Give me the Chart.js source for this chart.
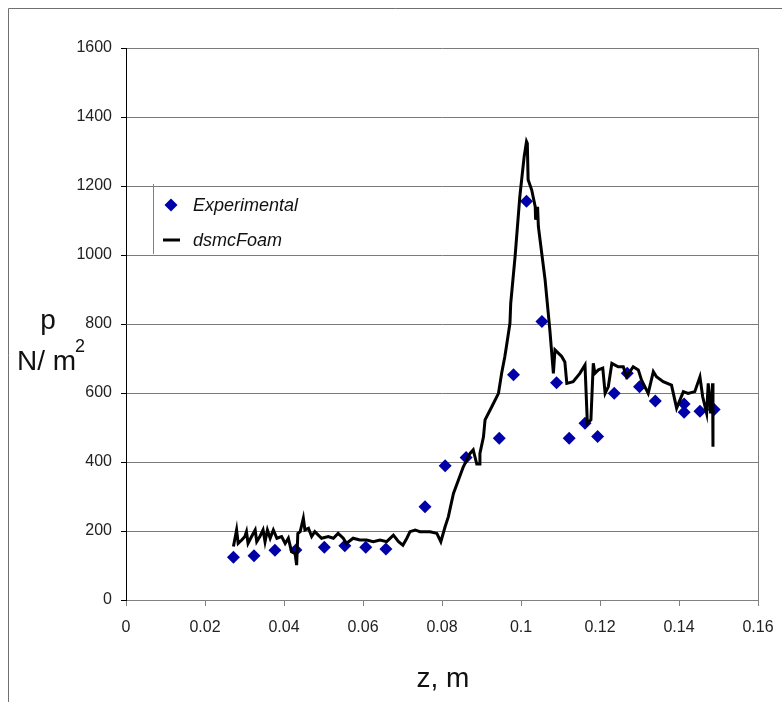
<!DOCTYPE html>
<html>
<head>
<meta charset="utf-8">
<script src="https://cdn.jsdelivr.net/npm/chart.js@4"></script>
<style>
  html, body { margin: 0; padding: 0; background: #fff; }
  #wrap { position: relative; width: 782px; height: 702px; }
</style>
</head>
<body>
<div id="wrap"><canvas id="pChart" width="782" height="702"></canvas></div>
<script>
// --- measured wall pressure (diamonds) ---
const expZ = [0.0272, 0.0324, 0.0377, 0.0430, 0.0502, 0.0554, 0.0607, 0.0658, 0.0757,
  0.0808, 0.0861, 0.0945, 0.0981, 0.1014, 0.1053, 0.1090, 0.1122, 0.1162, 0.1194,
  0.1236, 0.1269, 0.1300, 0.1340, 0.1413, 0.1413, 0.1453, 0.1489];
const expP = [124, 128, 144, 145, 153, 157, 153, 148, 270,
  389, 413, 469, 653, 1156, 807, 630, 469, 512, 474,
  599, 657, 618, 577, 568, 544, 547, 552];

// --- dsmcFoam solution ---
const simZ = [0.0272, 0.0280, 0.0284, 0.0293, 0.0301, 0.0305, 0.0309, 0.0318, 0.0327, 0.0331,
  0.0339, 0.0347, 0.0352, 0.0358, 0.0365, 0.0373, 0.0382, 0.0394, 0.0403, 0.0411,
  0.0419, 0.0428, 0.0432, 0.0435, 0.0441, 0.0449, 0.0453, 0.0462, 0.0470, 0.0478,
  0.0495, 0.0512, 0.0525, 0.0537, 0.0550, 0.0558, 0.0575, 0.0592, 0.0609, 0.0626,
  0.0643, 0.0660, 0.0677, 0.0690, 0.0701, 0.0711, 0.0719, 0.0732, 0.0744, 0.0770,
  0.0787, 0.0797, 0.0808, 0.0816, 0.0829, 0.0854, 0.0871, 0.0879, 0.0888, 0.0894,
  0.0896, 0.0905, 0.0909, 0.0926, 0.0943, 0.0951, 0.0959, 0.0963, 0.0972, 0.0974,
  0.0985, 0.0997, 0.1008, 0.1014, 0.1016, 0.1018, 0.1027, 0.1036, 0.1037, 0.1042,
  0.1044, 0.1061, 0.1073, 0.1082, 0.1086, 0.1103, 0.1111, 0.1116, 0.1132, 0.1149,
  0.1162, 0.1168, 0.1177, 0.1183, 0.1187, 0.1196, 0.1207, 0.1213, 0.1221, 0.1230,
  0.1246, 0.1259, 0.1267, 0.1284, 0.1297, 0.1305, 0.1322, 0.1335, 0.1343, 0.1360,
  0.1381, 0.1394, 0.1411, 0.1423, 0.1440, 0.1453, 0.1460, 0.1470, 0.1474, 0.1480,
  0.1485, 0.1486];
const simP = [155, 203, 164, 174, 184, 198, 164, 184, 203, 169,
  184, 203, 169, 203, 179, 203, 179, 184, 164, 179,
  140, 135, 101, 193, 198, 237, 203, 208, 184, 198,
  179, 184, 179, 193, 179, 164, 179, 174, 174, 169,
  174, 169, 188, 169, 159, 179, 198, 203, 198, 198,
  193, 169, 213, 241, 309, 386, 425, 435, 394, 394,
  425, 473, 522, 560, 599, 657, 705, 734, 802, 860,
  995, 1169, 1285, 1329, 1324, 1218, 1189, 1140, 1102, 1140,
  1082, 928, 783, 657, 725, 706, 690, 628, 633, 657,
  681, 512, 522, 686, 657, 667, 672, 599, 618, 686,
  676, 676, 647, 676, 667, 638, 599, 662, 647, 633,
  623, 556, 604, 599, 604, 647, 589, 541, 628, 541,
  628, 444];

// --- axes ---
const zTicks = [0, 0.02, 0.04, 0.06, 0.08, 0.1, 0.12, 0.14, 0.16];
const pTicks = [0, 200, 400, 600, 800, 1000, 1200, 1400, 1600];

const toXY = (xs, ys) => xs.map((x, i) => ({ x: x, y: ys[i] }));

const FONT = 'Arial, "Liberation Sans", sans-serif';
const DIAMOND = '#0000A8';

// frame, right border, axis titles and legend
const decor = {
  id: 'decor',
  afterDraw(chart) {
    const ctx = chart.ctx;
    const a = chart.chartArea;
    ctx.save();

    // outer frame (top + left)
    ctx.strokeStyle = '#707070';
    ctx.lineWidth = 1;
    ctx.beginPath();
    ctx.moveTo(8.5, 702);
    ctx.lineTo(8.5, 8.5);
    ctx.lineTo(782, 8.5);
    ctx.stroke();

    // right edge of plot area
    ctx.strokeStyle = '#808080';
    ctx.beginPath();
    ctx.moveTo(Math.round(a.right) + 0.5, a.top);
    ctx.lineTo(Math.round(a.right) + 0.5, a.bottom);
    ctx.stroke();

    // legend
    ctx.beginPath();
    ctx.moveTo(153.5, 184);
    ctx.lineTo(153.5, 254);
    ctx.stroke();
    ctx.fillStyle = DIAMOND;
    ctx.beginPath();
    ctx.moveTo(171, 198.5);
    ctx.lineTo(177.5, 205);
    ctx.lineTo(171, 211.5);
    ctx.lineTo(164.5, 205);
    ctx.closePath();
    ctx.fill();
    ctx.strokeStyle = '#000';
    ctx.lineWidth = 3;
    ctx.beginPath();
    ctx.moveTo(163, 240);
    ctx.lineTo(180, 240);
    ctx.stroke();
    ctx.fillStyle = '#111';
    ctx.font = 'italic 18px ' + FONT;
    ctx.textBaseline = 'middle';
    ctx.textAlign = 'left';
    ctx.fillText('Experimental', 193, 206);
    ctx.fillText('dsmcFoam', 193, 241);

    // axis titles
    ctx.font = '28px ' + FONT;
    ctx.textBaseline = 'alphabetic';
    ctx.textAlign = 'center';
    ctx.fillText('p', 48, 329);
    ctx.textAlign = 'left';
    ctx.fillText('N/ m', 17, 370);
    ctx.font = '18px ' + FONT;
    ctx.fillText('2', 75, 352);
    ctx.font = '28px ' + FONT;
    ctx.textAlign = 'center';
    ctx.fillText('z, m', 443, 687);

    ctx.restore();
  }
};

new Chart(document.getElementById('pChart'), {
  type: 'scatter',
  data: {
    datasets: [
      {
        label: 'dsmcFoam',
        data: toXY(simZ, simP),
        showLine: true,
        borderColor: '#000',
        borderWidth: 3,
        pointRadius: 0,
        tension: 0,
        order: 0
      },
      {
        label: 'Experimental',
        data: toXY(expZ, expP),
        pointStyle: 'rectRot',
        pointRadius: 6.5,
        pointBackgroundColor: DIAMOND,
        pointBorderColor: DIAMOND,
        pointBorderWidth: 0,
        order: 1
      }
    ]
  },
  options: {
    responsive: false,
    animation: false,
    devicePixelRatio: 1,
    layout: { padding: { left: 0, top: 48, right: 24, bottom: 0 } },
    plugins: {
      legend: { display: false },
      tooltip: { enabled: false }
    },
    scales: {
      x: {
        type: 'linear',
        min: 0,
        max: 0.16,
        afterBuildTicks: (s) => { s.ticks = zTicks.map(v => ({ value: v })); },
        afterFit: (s) => { s.height = 102; s.paddingLeft = 0; s.paddingRight = 0; },
        border: { color: '#808080', width: 1 },
        grid: { drawOnChartArea: false, drawTicks: true, tickLength: 6, tickColor: '#808080' },
        ticks: {
          color: '#222',
          padding: 12,
          maxRotation: 0,
          font: { family: FONT, size: 16 },
          callback: (v) => String(v)
        }
      },
      y: {
        type: 'linear',
        min: 0,
        max: 1600,
        afterBuildTicks: (s) => { s.ticks = pTicks.map(v => ({ value: v })); },
        afterFit: (s) => { s.width = 126; s.paddingTop = 0; s.paddingBottom = 0; },
        border: { color: '#000', width: 1 },
        grid: { color: '#7a7a7a', lineWidth: 1, drawTicks: true, tickLength: 5, tickColor: '#000' },
        ticks: {
          color: '#222',
          padding: 9,
          font: { family: FONT, size: 16 },
          callback: (v) => String(v)
        }
      }
    }
  },
  plugins: [decor]
});
</script>
</body>
</html>
